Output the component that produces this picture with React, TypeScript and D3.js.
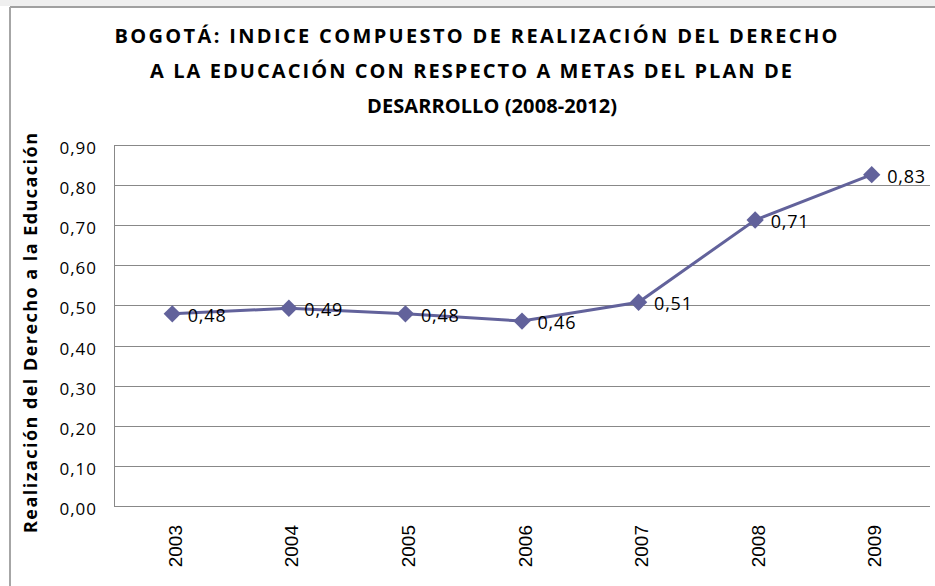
import * as d3 from 'd3';

const years = ['2003', '2004', '2005', '2006', '2007', '2008', '2009'];
const values = [0.479, 0.493, 0.479, 0.461, 0.508, 0.713, 0.826];
const yTicks = [0, 0.1, 0.2, 0.3, 0.4, 0.5, 0.6, 0.7, 0.8, 0.9];
const titleLines = [
  'BOGOTÁ: INDICE COMPUESTO DE REALIZACIÓN DEL DERECHO',
  'A LA EDUCACIÓN CON RESPECTO A METAS DEL PLAN DE',
  'DESARROLLO (2008-2012)',
];
const yLabel = 'Realización del Derecho a la Educación';

const W = 935;
const H = 586;
const margin = { top: 145, right: 5, bottom: 80, left: 114 };
const lineColor = '#62629b';
const gridColor = '#888888';
const sans = '"Open Sans", "Noto Sans", sans-serif';

const fmt = (v: number) => v.toFixed(2).replace('.', ',');

const App = () => {
  const x = d3
    .scalePoint<string>()
    .domain(years)
    .range([margin.left, W - margin.right])
    .padding(0.5);

  const y = d3
    .scaleLinear()
    .domain([0, 0.9])
    .range([H - margin.bottom, margin.top]);

  const pts = years.map((yr, i) => ({ yr, v: values[i] }));

  const line = d3
    .line<{ yr: string; v: number }>()
    .x((d) => x(d.yr) as number)
    .y((d) => y(d.v));

  const diamond = d3.symbol().type(d3.symbolSquare).size(150)();

  // title layout: centre x, baseline y, width in the picture
  const titleX = [476, 471, 492];
  const titleY = [43, 78, 113];
  const titleW = [723, 642, 250];

  return (
    <svg
      width={W}
      height={H}
      style={{ position: 'absolute', left: 0, top: 0, background: '#fff' }}
    >
      <rect x={0} y={0} width={W} height={6} fill="#efefef" />
      <line x1={10} x2={W} y1={7} y2={7} stroke="#a0a0a0" strokeWidth={2} />
      <line x1={10} x2={10} y1={7} y2={H} stroke="#a6a6a6" strokeWidth={2} />

      {titleLines.map((t, i) => (
        <text
          key={t}
          x={titleX[i]}
          y={titleY[i]}
          textAnchor="middle"
          fontFamily={sans}
          fontWeight="bold"
          fontSize={20}
          textLength={titleW[i]}
          lengthAdjust="spacing"
          fill="#000"
        >
          {t}
        </text>
      ))}

      <text
        transform={`translate(36.5, 333) rotate(-90)`}
        textAnchor="middle"
        fontFamily={sans}
        fontWeight="bold"
        fontSize={18}
        textLength={400}
        lengthAdjust="spacing"
        fill="#000"
      >
        {yLabel}
      </text>

      {yTicks.map((t) => (
        <g key={t}>
          <line
            x1={margin.left}
            x2={W - margin.right}
            y1={Math.round(y(t)) + 0.5}
            y2={Math.round(y(t)) + 0.5}
            stroke={gridColor}
            strokeWidth={1}
          />
          <text
            x={97}
            y={y(t) + 9}
            textAnchor="end"
            fontFamily={sans}
            fontSize={17}
            letterSpacing={1}
            fill="#000"
          >
            {fmt(t)}
          </text>
        </g>
      ))}

      <line
        x1={margin.left + 0.5}
        x2={margin.left + 0.5}
        y1={margin.top}
        y2={H - margin.bottom}
        stroke={gridColor}
        strokeWidth={1}
      />

      {years.map((yr) => (
        <text
          key={yr}
          transform={`translate(${(x(yr) as number) + 9.5}, 525) rotate(-90)`}
          textAnchor="end"
          fontFamily='"Liberation Sans", Arial, sans-serif'
          fontSize={19}
          fill="#000"
        >
          {yr}
        </text>
      ))}

      <path d={line(pts) ?? ''} fill="none" stroke={lineColor} strokeWidth={3} />

      {pts.map((d) => (
        <path
          key={d.yr}
          d={diamond ?? ''}
          transform={`translate(${x(d.yr)}, ${y(d.v)}) rotate(45)`}
          fill={lineColor}
        />
      ))}

      {pts.map((d) => (
        <text
          key={'l' + d.yr}
          x={(x(d.yr) as number) + 15.5}
          y={y(d.v) + 8}
          fontFamily={sans}
          fontSize={18}
          letterSpacing={0.8}
          fill="#000"
        >
          {fmt(d.v)}
        </text>
      ))}
    </svg>
  );
};

export default App;
